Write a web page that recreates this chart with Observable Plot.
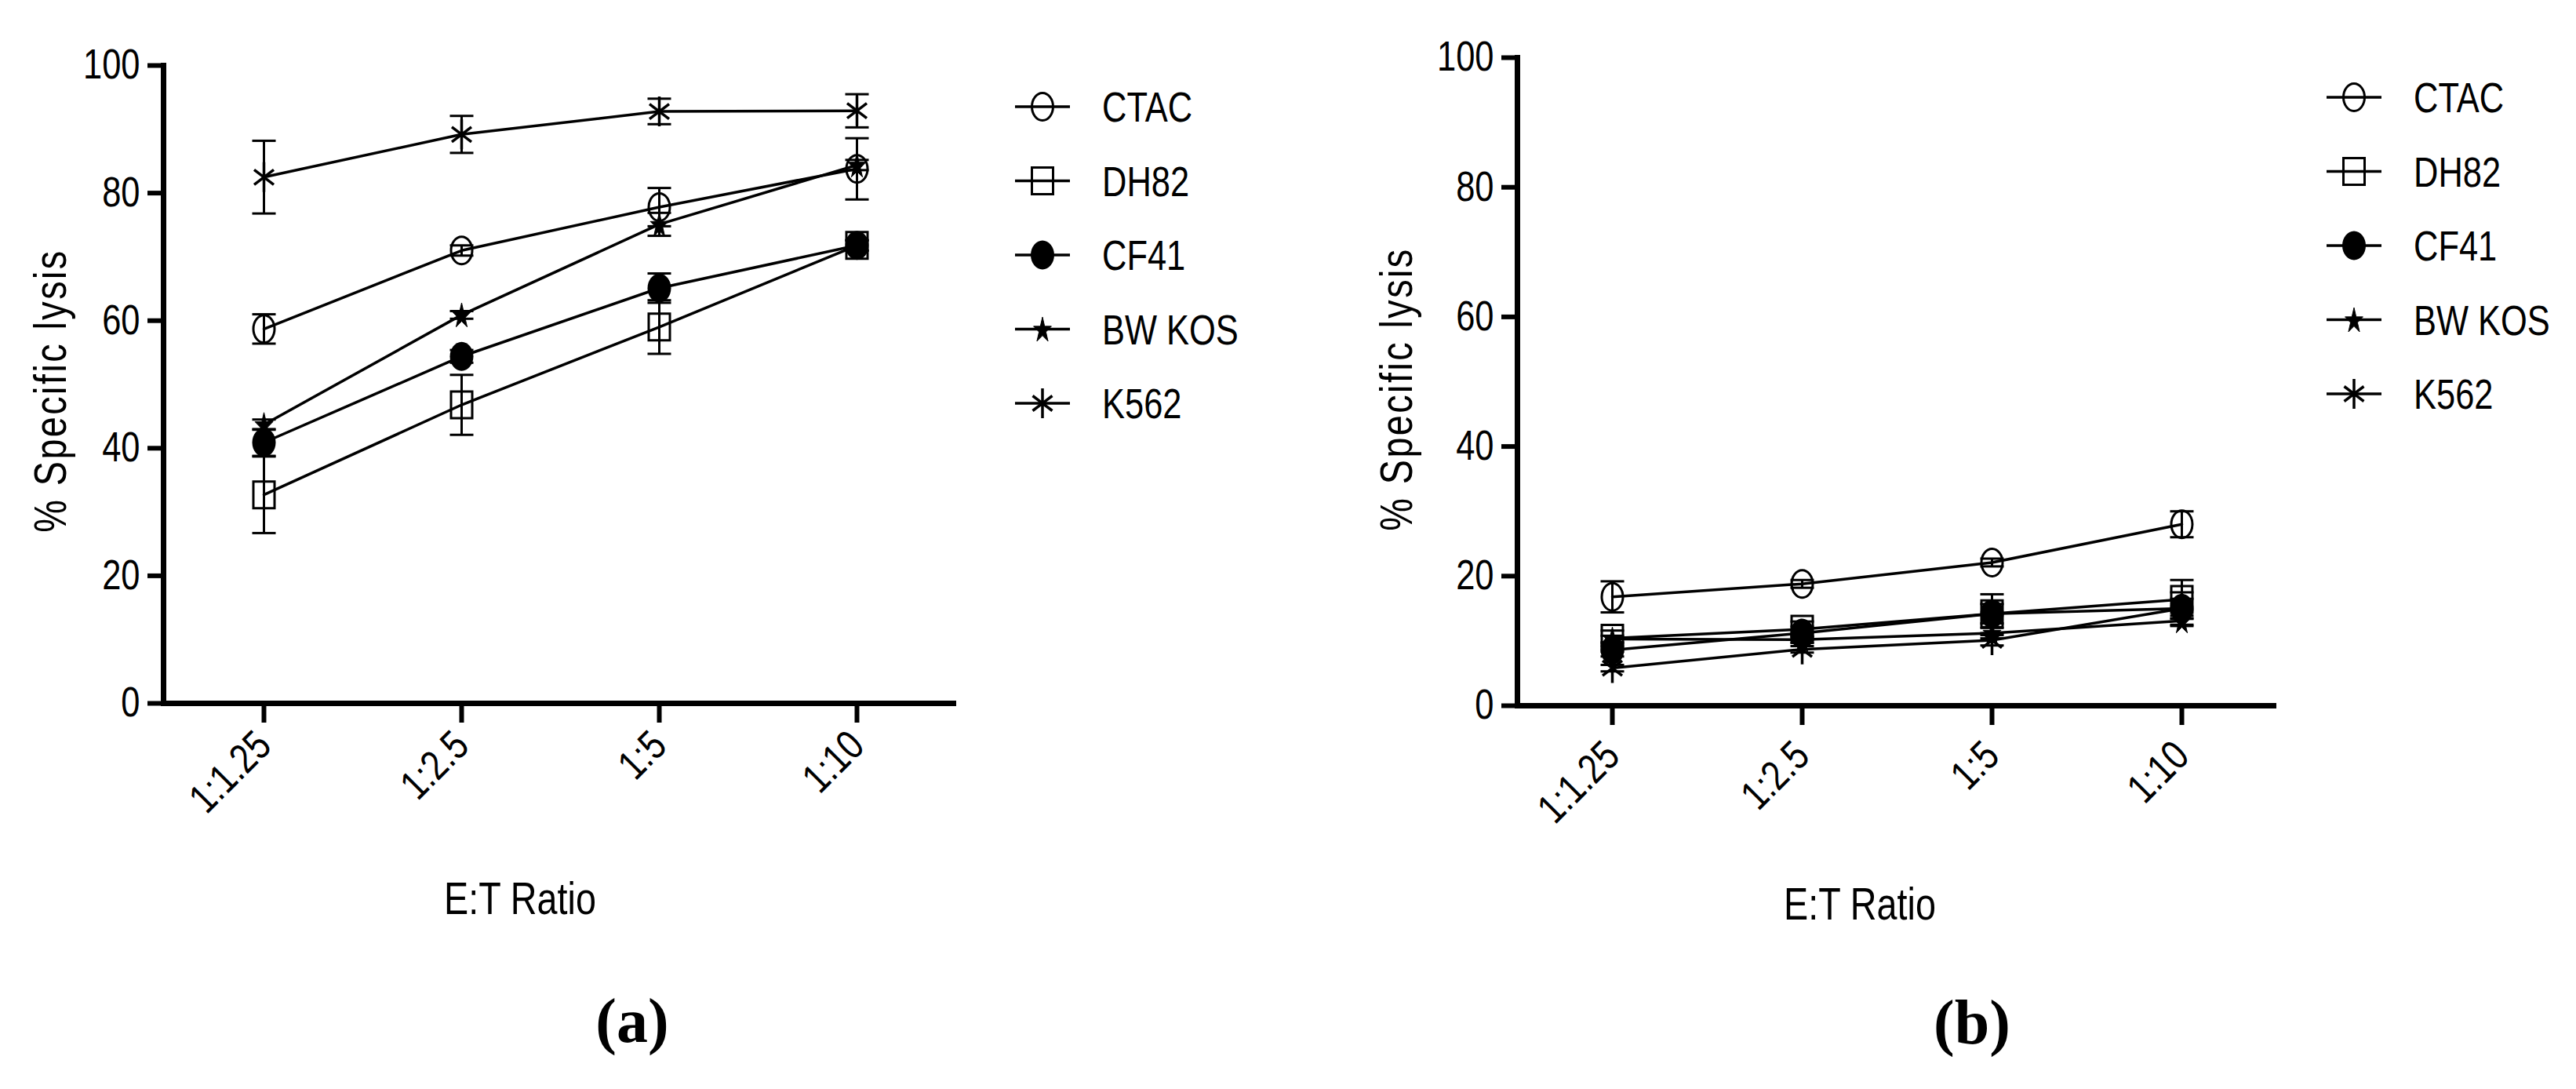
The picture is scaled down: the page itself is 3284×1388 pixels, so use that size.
<!DOCTYPE html>
<html>
<head>
<meta charset="utf-8">
<script src="https://cdn.jsdelivr.net/npm/d3@7"></script>
<script src="https://cdn.jsdelivr.net/npm/@observablehq/plot@0.6"></script>
<style>
  body { margin: 0; background: #ffffff; }
  #root { position: relative; width: 3284px; height: 1388px; overflow: hidden; background: #ffffff; }
  .panel { position: absolute; top: 0; }
  #overlay { position: absolute; left: 0; top: 0; pointer-events: none; }
</style>
</head>
<body>
<div id="root"></div>
<script>
// ---------- data ----------
const ratios = ["1:1.25", "1:2.5", "1:5", "1:10"];
const seriesNames = ["CTAC", "DH82", "CF41", "BW KOS", "K562"];
const yTicks = [0, 20, 40, 60, 80, 100];

// panel (a): mean and SEM
const aCTAC = [58.7, 71.0, 77.8, 83.8];
const aCTACerr = [2.3, 0.8, 3.0, 4.8];
const aDH82 = [32.7, 46.8, 59.0, 71.8];
const aDH82err = [6.0, 4.7, 4.2, 0.8];
const aCF41 = [40.9, 54.4, 65.1, 71.8];
const aCF41err = [2.1, 1.0, 2.3, 0.8];
const aBWKOS = [43.7, 60.9, 75.1, 84.4];
const aBWKOSerr = [0.8, 0.6, 1.8, 0.8];
const aK562 = [82.5, 89.2, 92.8, 92.9];
const aK562err = [5.7, 2.9, 2.0, 2.6];

// panel (b): mean and SEM
const bCTAC = [16.8, 18.8, 22.1, 28.0];
const bCTACerr = [2.4, 0.6, 0.6, 2.0];
const bDH82 = [10.4, 11.8, 14.2, 16.4];
const bDH82err = [1.2, 1.2, 3.0, 3.0];
const bCF41 = [8.6, 11.2, 14.2, 15.0];
const bCF41err = [1.0, 1.0, 1.5, 1.5];
const bBWKOS = [10.3, 10.2, 11.2, 13.1];
const bBWKOSerr = [0.5, 0.5, 0.8, 0.8];
const bK562 = [5.8, 8.7, 10.1, 15.0];
const bK562err = [0.5, 0.5, 0.8, 2.5];

const panelLabels = ["(a)", "(b)"];
const xTitle = "E:T Ratio";
const yTitle = "% Specific lysis";

// ---------- symbols ----------
function ellipse(ctx, rx, ry) {
  const kx = rx * 0.5523, ky = ry * 0.5523;
  ctx.moveTo(rx, 0);
  ctx.bezierCurveTo(rx, ky, kx, ry, 0, ry);
  ctx.bezierCurveTo(-kx, ry, -rx, ky, -rx, 0);
  ctx.bezierCurveTo(-rx, -ky, -kx, -ry, 0, -ry);
  ctx.bezierCurveTo(kx, -ry, rx, -ky, rx, 0);
  ctx.closePath();
}
const symOpenCircle = { draw(ctx) { ellipse(ctx, 13.5, 17.5); } };
const symSquare = { draw(ctx) { ctx.rect(-13.5, -17, 27, 34); } };
const symFilledCircle = { draw(ctx) { ellipse(ctx, 15, 18.5); } };
const symStar = { draw(ctx) {
  const sx = 12, sy = 17, off = 0.095;
  for (let i = 0; i < 10; i++) {
    const a = -Math.PI / 2 + i * Math.PI / 5;
    const r = i % 2 === 0 ? 1 : 0.382;
    const px = r * Math.cos(a) * sx, py = (r * Math.sin(a) + off) * sy;
    if (i === 0) ctx.moveTo(px, py); else ctx.lineTo(px, py);
  }
  ctx.closePath();
} };
const symAsterisk = { draw(ctx) {
  ctx.moveTo(0, -19); ctx.lineTo(0, 19);
  ctx.moveTo(-12.5, -9.5); ctx.lineTo(12.5, 9.5);
  ctx.moveTo(-12.5, 9.5); ctx.lineTo(12.5, -9.5);
} };
const symCap = { draw(ctx) { ctx.moveTo(-15, 0); ctx.lineTo(15, 0); } };

const seriesStyle = {
  "CTAC":   { symbol: symOpenCircle,   fill: "none",  stroke: "black", strokeWidth: 3 },
  "DH82":   { symbol: symSquare,       fill: "none",  stroke: "black", strokeWidth: 3 },
  "CF41":   { symbol: symFilledCircle, fill: "black", stroke: "none",  strokeWidth: 0 },
  "BW KOS": { symbol: symStar,         fill: "black", stroke: "black", strokeWidth: 1 },
  "K562":   { symbol: symAsterisk,     fill: "none",  stroke: "black", strokeWidth: 3.5 }
};

const FONT = "'Liberation Sans', Arial, sans-serif";
const NARROW = 0.82; // horizontal condensing to mimic Arial Narrow

function buildRows(means, errs) {
  const rows = [];
  seriesNames.forEach((s, i) => {
    ratios.forEach((r, j) => {
      rows.push({ series: s, ratio: r, value: means[i][j], lo: means[i][j] - errs[i][j], hi: means[i][j] + errs[i][j] });
    });
  });
  return rows;
}

function panel(rows, m) {
  const caps = rows.flatMap(d => [{ ratio: d.ratio, y: d.lo }, { ratio: d.ratio, y: d.hi }]);
  const marks = [
    Plot.ruleY([0], { stroke: "black", strokeWidth: 7 }),
    Plot.frame({ anchor: "left", stroke: "black", strokeWidth: 7 }),
    Plot.axisY({ ticks: yTicks, tickSize: 20, tickPadding: 10, stroke: "black", strokeWidth: 6, fontSize: 53, label: null }),
    Plot.axisX({ tickSize: 25, tickPadding: m.tickPad, tickRotate: -45, stroke: "black", strokeWidth: 6, fontSize: 53, label: null }),
    Plot.line(rows, { x: "ratio", y: "value", z: "series", stroke: "black", strokeWidth: 3.5 }),
    Plot.ruleX(rows, { x: "ratio", y1: "lo", y2: "hi", stroke: "black", strokeWidth: 3 }),
    Plot.dot(caps, { x: "ratio", y: "y", symbol: symCap, stroke: "black", strokeWidth: 3, fill: "none", r: 5 })
  ];
  seriesNames.forEach(s => {
    const st = seriesStyle[s];
    marks.push(Plot.dot(rows.filter(d => d.series === s), {
      x: "ratio", y: "value", symbol: st.symbol, fill: st.fill, stroke: st.stroke, strokeWidth: st.strokeWidth, r: 5
    }));
  });
  return Plot.plot({
    width: 1642, height: 1388,
    marginLeft: m.left, marginRight: m.right, marginTop: m.top, marginBottom: m.bottom,
    x: { type: "point", domain: ratios, padding: 0.5, align: 0.5 },
    y: { domain: [0, 100] },
    style: { fontFamily: FONT, fontSize: "53px", color: "black", background: "transparent", overflow: "visible" },
    marks
  });
}

// condense every text of an svg horizontally (in the text's own frame)
function condense(svgEl) {
  svgEl.querySelectorAll("text").forEach(el => {
    let t = el.getAttribute("transform");
    if (!t) {
      const x = el.getAttribute("x");
      if (x !== null && !isNaN(+x)) {
        t = `translate(${+x},0)`;
        el.removeAttribute("x");
      } else t = "";
    }
    el.setAttribute("transform", `${t} scale(${NARROW},1)`);
  });
}

const rowsA = buildRows([aCTAC, aDH82, aCF41, aBWKOS, aK562], [aCTACerr, aDH82err, aCF41err, aBWKOSerr, aK562err]);
const rowsB = buildRows([bCTAC, bDH82, bCF41, bBWKOS, bK562], [bCTACerr, bDH82err, bCF41err, bBWKOSerr, bK562err]);

const root = document.getElementById("root");
const pA = panel(rowsA, { left: 208, right: 423, top: 83, bottom: 492, tickPad: 20 });
pA.classList.add("panel"); pA.style.left = "0px";
condense(pA);
root.appendChild(pA);
const pB = panel(rowsB, { left: 292, right: 382, top: 73, bottom: 489, tickPad: 30 });
pB.classList.add("panel"); pB.style.left = "1642px";
condense(pB);
root.appendChild(pB);

// ---------- overlay: legends, titles, panel labels ----------
const svg = d3.select(root).append("svg").attr("id", "overlay")
  .attr("width", 3284).attr("height", 1388)
  .attr("font-family", FONT);

const layouts = [
  { legendX: 1329, legendY: 136, xTitleX: 663, xTitleY: 1165, yTitleX: 63, yTitleY: 498, labelX: 806, labelY: 1328 },
  { legendX: 3001, legendY: 124, xTitleX: 2371, xTitleY: 1172, yTitleX: 1779, yTitleY: 496, labelX: 2514, labelY: 1330 }
];

layouts.forEach((L, k) => {
  const g = svg.append("g");
  seriesNames.forEach((s, i) => {
    const st = seriesStyle[s];
    const cy = L.legendY + i * 94.5;
    g.append("line").attr("x1", L.legendX - 35).attr("x2", L.legendX + 35)
      .attr("y1", cy).attr("y2", cy).attr("stroke", "black").attr("stroke-width", 3.5);
    const p = d3.path();
    st.symbol.draw(p, 0);
    g.append("path").attr("d", p.toString()).attr("transform", `translate(${L.legendX},${cy})`)
      .attr("fill", st.fill).attr("stroke", st.stroke).attr("stroke-width", st.strokeWidth);
    g.append("text").attr("transform", `translate(${L.legendX + 76},${cy + 19}) scale(${NARROW},1)`)
      .attr("font-size", 53).attr("fill", "black").text(s);
  });
  g.append("text").attr("transform", `translate(${L.xTitleX},${L.xTitleY}) scale(${NARROW},1)`)
    .attr("text-anchor", "middle")
    .attr("font-size", 57).attr("fill", "black").text(xTitle);
  g.append("text").attr("transform", `translate(${L.yTitleX},${L.yTitleY}) rotate(-90) scale(${NARROW},1)`)
    .attr("text-anchor", "middle").attr("dy", "0.36em").attr("letter-spacing", 3)
    .attr("font-size", 57).attr("fill", "black").text(yTitle);
  g.append("text").attr("x", L.labelX).attr("y", L.labelY).attr("text-anchor", "middle")
    .attr("font-family", "'Liberation Serif', 'DejaVu Serif', serif").attr("font-weight", "bold")
    .attr("font-size", 80).attr("fill", "black").text(panelLabels[k]);
});
</script>
</body>
</html>
